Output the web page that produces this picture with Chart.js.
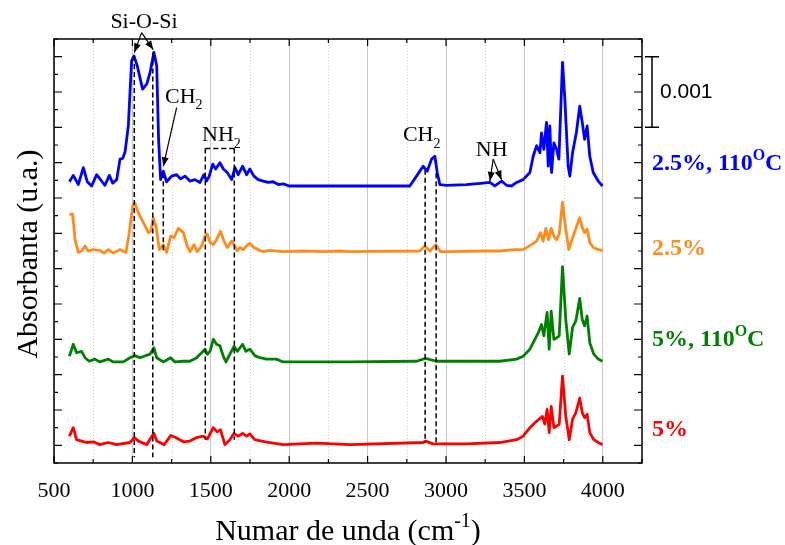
<!DOCTYPE html>
<html>
<head>
<meta charset="utf-8">
<script src="https://cdn.jsdelivr.net/npm/chart.js@4.4.1/dist/chart.umd.min.js"></script>
<style>
  body { margin: 0; background: #fff; }
  #wrap { width: 785px; height: 545px; }
</style>
</head>
<body>
<div id="wrap"><canvas id="ftir"></canvas></div>
<script>
// wavenumber (cm-1) and absorbance (x10^-3 a.u., spectra already stacked)
const wn_25_110 = [598,623,655,687,712,740,772,804,825,853,874,900,921,938,953,974,995,1010,1031,1065,1091,1112,1137,1155,1167,1180,1197,1218,1250,1282,1308,1335,1367,1399,1431,1456,1473,1490,1512,1531,1558,1580,1605,1633,1654,1675,1703,1728,1749,1775,1802,1834,1866,1898,1930,1962,2000,2200,2400,2600,2769,2812,2854,2880,2908,2929,2944,2961,3003,3131,3237,3280,3311,3354,3386,3418,3450,3492,3535,3556,3578,3599,3609,3624,3641,3652,3662,3673,3688,3705,3720,3743,3758,3779,3790,3807,3831,3853,3869,3884,3900,3917,3939,3971,3998];
const abs_25_110 = [3.73,3.82,3.69,3.93,3.73,3.67,3.83,3.74,3.68,3.82,3.71,3.76,4.05,4.06,4.15,4.52,5.44,5.51,5.37,5.04,5.11,5.27,5.56,5.37,4.33,3.76,3.88,3.73,3.81,3.83,3.77,3.81,3.74,3.76,3.72,3.83,3.74,3.81,3.98,3.91,4.00,3.91,3.86,3.76,3.93,3.83,3.95,3.83,3.91,3.81,3.76,3.74,3.72,3.73,3.69,3.70,3.67,3.67,3.67,3.67,3.67,3.81,3.95,3.88,4.05,4.09,3.86,3.69,3.68,3.69,3.71,3.72,3.67,3.74,3.68,3.67,3.72,3.76,3.86,4.09,4.24,4.14,4.42,4.19,4.57,3.95,4.52,3.86,4.28,4.19,4.05,5.42,4.90,3.95,3.81,4.14,4.42,4.80,4.57,4.33,4.52,4.09,3.86,3.74,3.67];

const wn_25 = [598,619,634,655,676,698,719,751,793,819,846,878,921,959,980,1002,1016,1038,1070,1102,1117,1133,1150,1172,1197,1218,1244,1265,1293,1325,1350,1367,1393,1414,1441,1463,1478,1495,1516,1537,1562,1584,1605,1633,1654,1669,1686,1707,1728,1749,1775,1802,1834,1877,1962,2090,2217,2323,2387,2833,2865,2897,2935,2965,3025,3237,3343,3439,3492,3545,3578,3603,3620,3637,3654,3671,3688,3705,3722,3743,3764,3783,3800,3828,3853,3869,3884,3900,3917,3939,3971,3998];
const abs_25 = [3.27,3.27,2.91,2.73,2.75,2.82,2.75,2.77,2.76,2.72,2.77,2.72,2.77,2.73,3.01,3.39,3.43,3.29,3.15,3.01,3.03,3.22,3.10,2.77,2.84,2.73,2.96,2.94,3.07,3.01,2.82,2.74,2.84,2.74,2.82,2.96,2.99,2.87,2.84,2.91,3.03,2.89,2.80,2.89,2.82,2.75,2.80,2.77,2.82,2.86,2.80,2.77,2.74,2.76,2.74,2.75,2.74,2.75,2.74,2.75,2.82,2.75,2.84,2.74,2.74,2.75,2.75,2.77,2.77,2.84,2.89,3.01,2.89,3.07,2.91,3.07,2.96,2.91,2.99,3.44,3.06,2.77,2.89,3.07,3.22,3.08,3.01,3.06,2.87,2.80,2.77,2.76];

const wn_5_110 = [598,623,644,676,698,725,761,793,846,878,942,984,1016,1048,1112,1137,1155,1197,1244,1271,1325,1367,1410,1441,1463,1478,1495,1516,1537,1558,1580,1597,1622,1648,1669,1703,1724,1749,1781,1813,1856,1919,1962,2175,2387,2812,2870,2940,3131,3343,3450,3492,3535,3567,3588,3609,3624,3645,3658,3671,3688,3705,3722,3743,3764,3786,3807,3828,3853,3869,3884,3900,3917,3943,3971,3998];
const abs_5_110 = [1.26,1.43,1.31,1.33,1.24,1.19,1.22,1.18,1.22,1.18,1.18,1.24,1.27,1.24,1.29,1.38,1.24,1.18,1.24,1.18,1.19,1.19,1.24,1.31,1.36,1.29,1.33,1.50,1.43,1.41,1.26,1.18,1.29,1.40,1.33,1.43,1.33,1.36,1.27,1.24,1.22,1.22,1.18,1.18,1.18,1.19,1.23,1.19,1.19,1.19,1.22,1.26,1.36,1.50,1.59,1.71,1.55,1.88,1.36,1.90,1.50,1.52,1.55,2.53,1.78,1.29,1.67,1.76,2.08,1.78,1.69,1.83,1.45,1.29,1.22,1.19];

const wn_5 = [598,623,644,676,708,751,793,846,900,984,1012,1038,1091,1137,1155,1203,1244,1276,1325,1367,1410,1452,1478,1516,1541,1562,1590,1622,1648,1675,1703,1728,1749,1781,1824,1877,1962,2175,2387,2854,2870,2918,3131,3343,3450,3492,3535,3567,3594,3615,3630,3645,3658,3671,3688,3705,3722,3743,3764,3786,3807,3828,3853,3869,3884,3900,3917,3943,3971,3998];
const abs_5 = [0.13,0.25,0.08,0.06,0.04,0.05,0.01,0.04,0.01,0.04,0.11,0.06,0.01,0.17,0.06,0.01,0.14,0.11,0.05,0.06,0.11,0.13,0.09,0.25,0.19,0.22,0.01,0.08,0.17,0.13,0.17,0.13,0.16,0.08,0.06,0.04,0.01,0.03,0.01,0.04,0.06,0.02,0.02,0.04,0.08,0.13,0.25,0.32,0.37,0.41,0.30,0.51,0.18,0.55,0.25,0.27,0.30,0.98,0.41,0.08,0.37,0.46,0.67,0.46,0.39,0.44,0.18,0.08,0.04,0.01];

const seriesX = [wn_25_110, wn_25, wn_5_110, wn_5];
const seriesY = [abs_25_110, abs_25, abs_5_110, abs_5];
// label text split so the "O" of 110ºC can be raised
const seriesNames = [
  [["2.5%, 110", ""], ["O", "sup"], ["C", ""]],
  [["2.5%", ""]],
  [["5%, 110", ""], ["O", "sup"], ["C", ""]],
  [["5%", ""]]
];
const seriesColors = ["#0000ff", "#ff8c1a", "#008000", "#ff0000"];
const seriesLabelY = [3.89, 2.70, 1.40, 0.13];

// band markers (dashed verticals), arrows and band names
const dashX = [1012, 1130, 1197, 1465, 1650, 2867, 2937];
const dashTop = [5.51, 5.56, 3.85, 4.20, 4.20, 3.90, 3.85];
const dashBottom = [-0.17, -0.17, 2.75, 0.08, 0.08, 0.04, 0.04];
const bracketX = [1465, 1650];
const bracketY = 4.20;
const arrows = [
  [1059, 5.84, 1012, 5.56],
  [1059, 5.84, 1133, 5.60],
  [1282, 4.78, 1197, 3.95],
  [3301, 4.05, 3280, 3.74],
  [3301, 4.05, 3354, 3.76]
];
const bandLabels = [
  { parts: [["Si-O-Si", ""]], x: 1074, y: 5.91, align: "center" },
  { parts: [["CH", ""], ["2", "sub"]], x: 1208, y: 4.85, align: "left" },
  { parts: [["NH", ""], ["2", "sub"]], x: 1444, y: 4.30, align: "left" },
  { parts: [["CH", ""], ["2", "sub"]], x: 2725, y: 4.30, align: "left" },
  { parts: [["NH", ""]], x: 3190, y: 4.09, align: "left" }
];
const scaleBar = [4.5, 5.5]; // 0.001 a.u.

// draws text with sub / superscript pieces
function drawRich(ctx, parts, x, y, size, weight, family, align) {
  const fontFor = (mode) => weight + " " + (mode ? Math.round(size * 0.65) : size) + "px " + family;
  let total = 0;
  parts.forEach(p => { ctx.font = fontFor(p[1]); total += ctx.measureText(p[0]).width; });
  let cx = align === "center" ? x - total / 2 : x;
  ctx.textAlign = "left";
  ctx.textBaseline = "alphabetic";
  parts.forEach(p => {
    ctx.font = fontFor(p[1]);
    let dy = 0;
    if (p[1] === "sub") dy = size * 0.3;
    if (p[1] === "sup") dy = -size * 0.42;
    ctx.fillText(p[0], cx, y + dy);
    cx += ctx.measureText(p[0]).width;
  });
}

function arrowHead(ctx, x0, y0, x1, y1) {
  const ang = Math.atan2(y1 - y0, x1 - x0);
  const len = 9, hw = 3.5;
  ctx.beginPath();
  ctx.moveTo(x1, y1);
  ctx.lineTo(x1 - len * Math.cos(ang) + hw * Math.sin(ang), y1 - len * Math.sin(ang) - hw * Math.cos(ang));
  ctx.lineTo(x1 - len * Math.cos(ang) - hw * Math.sin(ang), y1 - len * Math.sin(ang) + hw * Math.cos(ang));
  ctx.closePath();
  ctx.fill();
}

const decor = {
  id: "decor",
  beforeDatasetsDraw(chart) {
    const { ctx, chartArea: a, scales: { x } } = chart;
    // dotted minor grid
    ctx.save();
    ctx.strokeStyle = "#d0d0d0";
    ctx.lineWidth = 1;
    ctx.setLineDash([1, 2]);
    for (let v = 750; v < 4250; v += 500) {
      const px = Math.round(x.getPixelForValue(v)) + 0.5;
      ctx.beginPath(); ctx.moveTo(px, a.top); ctx.lineTo(px, a.bottom); ctx.stroke();
    }
    ctx.restore();
  },
  afterDraw(chart) {
    const { ctx, chartArea: a, scales: { x, y } } = chart;
    ctx.save();
    ctx.fillStyle = "#000";
    ctx.strokeStyle = "#000";

    // dashed band markers
    ctx.lineWidth = 1.5;
    ctx.setLineDash([5, 3]);
    dashX.forEach((v, i) => {
      const px = x.getPixelForValue(v);
      ctx.beginPath();
      ctx.moveTo(px, y.getPixelForValue(dashTop[i]));
      ctx.lineTo(px, y.getPixelForValue(dashBottom[i]));
      ctx.stroke();
    });
    ctx.beginPath();
    ctx.moveTo(x.getPixelForValue(bracketX[0]), y.getPixelForValue(bracketY));
    ctx.lineTo(x.getPixelForValue(bracketX[1]), y.getPixelForValue(bracketY));
    ctx.stroke();
    ctx.setLineDash([]);

    // arrows
    ctx.lineWidth = 1.2;
    arrows.forEach(r => {
      const x0 = x.getPixelForValue(r[0]), y0 = y.getPixelForValue(r[1]);
      const x1 = x.getPixelForValue(r[2]), y1 = y.getPixelForValue(r[3]);
      ctx.beginPath(); ctx.moveTo(x0, y0); ctx.lineTo(x1, y1); ctx.stroke();
      arrowHead(ctx, x0, y0, x1, y1);
    });

    // band names
    bandLabels.forEach(l => {
      drawRich(ctx, l.parts, x.getPixelForValue(l.x), y.getPixelForValue(l.y), 22, "normal", "'Liberation Serif'", l.align);
    });

    // frame and inward ticks
    ctx.lineWidth = 1.5;
    ctx.strokeRect(a.left, a.top, a.right - a.left, a.bottom - a.top);
    ctx.lineWidth = 1.2;
    for (let v = 500; v <= 4250; v += 250) {
      const px = x.getPixelForValue(v);
      const len = v % 500 === 0 ? 7 : 4;
      ctx.beginPath();
      ctx.moveTo(px, a.bottom); ctx.lineTo(px, a.bottom - len);
      ctx.moveTo(px, a.top); ctx.lineTo(px, a.top + len);
      ctx.stroke();
    }
    for (let k = -1; k <= 23; k++) {
      const py = y.getPixelForValue(k * 0.25);
      const len = k % 2 === 0 ? 8 : 4;
      ctx.beginPath();
      ctx.moveTo(a.left, py); ctx.lineTo(a.left + len, py);
      ctx.moveTo(a.right, py); ctx.lineTo(a.right - len, py);
      ctx.stroke();
    }

    // scale bar
    const bx = a.right + 10;
    const b0 = y.getPixelForValue(scaleBar[0]), b1 = y.getPixelForValue(scaleBar[1]);
    ctx.lineWidth = 1.5;
    ctx.beginPath();
    ctx.moveTo(bx, b0); ctx.lineTo(bx, b1);
    ctx.moveTo(bx - 7, b0); ctx.lineTo(bx + 7, b0);
    ctx.moveTo(bx - 7, b1); ctx.lineTo(bx + 7, b1);
    ctx.stroke();
    ctx.font = "21px 'Liberation Sans'";
    ctx.textAlign = "left";
    ctx.textBaseline = "middle";
    ctx.fillText("0.001", bx + 8, (b0 + b1) / 2);

    // series names
    seriesNames.forEach((parts, i) => {
      ctx.fillStyle = seriesColors[i];
      drawRich(ctx, parts, a.right + 10, y.getPixelForValue(seriesLabelY[i]), 24, "bold", "'Liberation Serif'", "left");
    });

    // axis titles
    ctx.fillStyle = "#000";
    drawRich(ctx, [["Numar de unda (cm", ""], ["-1", "sup"], [")", ""]], (a.left + a.right) / 2, 540, 30, "normal", "'Liberation Serif'", "center");
    ctx.save();
    ctx.translate(37, (a.top + a.bottom) / 2 + 3);
    ctx.rotate(-Math.PI / 2);
    drawRich(ctx, [["Absorbanta (u.a.)", ""]], 0, 0, 30, "normal", "'Liberation Serif'", "center");
    ctx.restore();

    ctx.restore();
  }
};

const datasets = seriesX.map((xs, i) => ({
  data: xs.map((v, j) => ({ x: v, y: seriesY[i][j] })),
  borderColor: seriesColors[i],
  borderWidth: 2.8,
  borderJoinStyle: "round",
  pointRadius: 0,
  tension: 0,
  fill: false
}));

new Chart(document.getElementById("ftir"), {
  type: "line",
  data: { datasets: datasets },
  options: {
    responsive: true,
    maintainAspectRatio: false,
    animation: false,
    layout: { padding: { top: 39, right: 143, left: 0, bottom: 0 } },
    plugins: { legend: { display: false }, tooltip: { enabled: false } },
    scales: {
      x: {
        type: "linear",
        min: 500,
        max: 4250,
        afterFit: (s) => { s.height = 82; },
        ticks: {
          stepSize: 250,
          autoSkip: false,
          maxRotation: 0,
          padding: 15,
          color: "#000",
          font: { family: "'Liberation Serif'", size: 22 },
          callback: (v) => (v % 500 === 0 && v <= 4000) ? String(v) : ""
        },
        grid: {
          drawTicks: false,
          lineWidth: 1,
          color: (c) => (c.tick && c.tick.value % 500 === 0) ? "#c8c8c8" : "rgba(0,0,0,0)"
        },
        border: { display: false }
      },
      y: {
        min: -0.25,
        max: 5.75,
        afterFit: (s) => { s.width = 54; },
        ticks: { display: false, stepSize: 0.25 },
        grid: { display: false },
        border: { display: false }
      }
    }
  },
  plugins: [decor]
});
</script>
</body>
</html>
